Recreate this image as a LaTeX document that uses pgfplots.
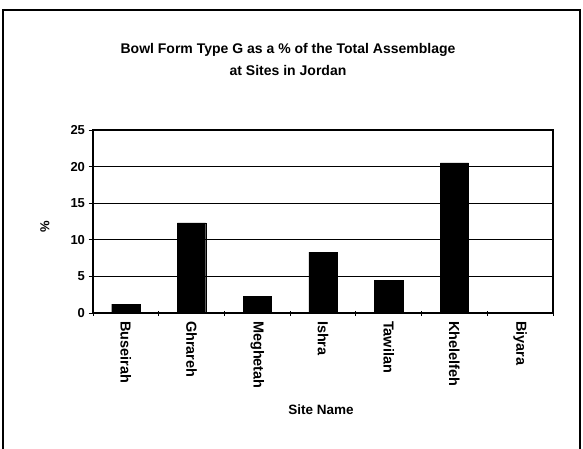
\documentclass[border=0pt]{standalone}
\usepackage{fontspec}
\setmainfont{Liberation Sans}
\usepackage{pgfplots}
\pgfplotsset{compat=1.18}
\begin{document}
\begin{tikzpicture}[x=1pt,y=1pt]
\path[use as bounding box] (0,0) rectangle (583,448);
\draw[line width=1.2pt] (3,-2) -- (3,438) -- (580,438) -- (580,-2);
\node[align=center,font=\bfseries\fontsize{14}{22}\selectfont] at (288,389) {Bowl Form Type G as a \% of the Total Assemblage\\at Sites in Jordan};
\node[rotate=90,font=\bfseries\fontsize{13}{15}\selectfont] at (45,221) {\%};
\node[font=\bfseries\fontsize{13.5}{15}\selectfont] at (321,38) {Site Name};
\begin{axis}[
  at={(93pt,135pt)}, anchor=south west,
  scale only axis, width=460pt, height=183pt,
  xmin=-0.5, xmax=6.5, ymin=0, ymax=25,
  ytick={0,5,10,15,20,25},
  xtick={0,1,2,3,4,5,6},
  xticklabels={Buseirah,Ghrareh,Meghetah,Ishra,Tawilan,Khelelfeh,Biyara},
  minor xtick={-0.5,0.5,1.5,2.5,3.5,4.5,5.5,6.5},
  major x tick style={draw=none},
  minor tick length=5pt,
  major tick length=9pt,
  tick align=center,
  tick style={black, line width=0.9pt},
  ymajorgrids, grid style={black, line width=0.9pt},
  axis line style={black, line width=1.1pt},
  x tick label style={rotate=-90, anchor=west, font=\bfseries\fontsize{14.5}{16}\selectfont},
  y tick label style={font=\bfseries\fontsize{13}{15}\selectfont},
  /pgf/number format/assume math mode=true,
  xtick pos=bottom, ytick pos=left,
]
\addplot[ybar, bar width=0.43, fill=black, draw=black] coordinates {
(0,1.2) (1,12.3) (2,2.3) (3,8.3) (4,4.5) (5,20.5) (6,0)
};
\end{axis}
\end{tikzpicture}
\end{document}
